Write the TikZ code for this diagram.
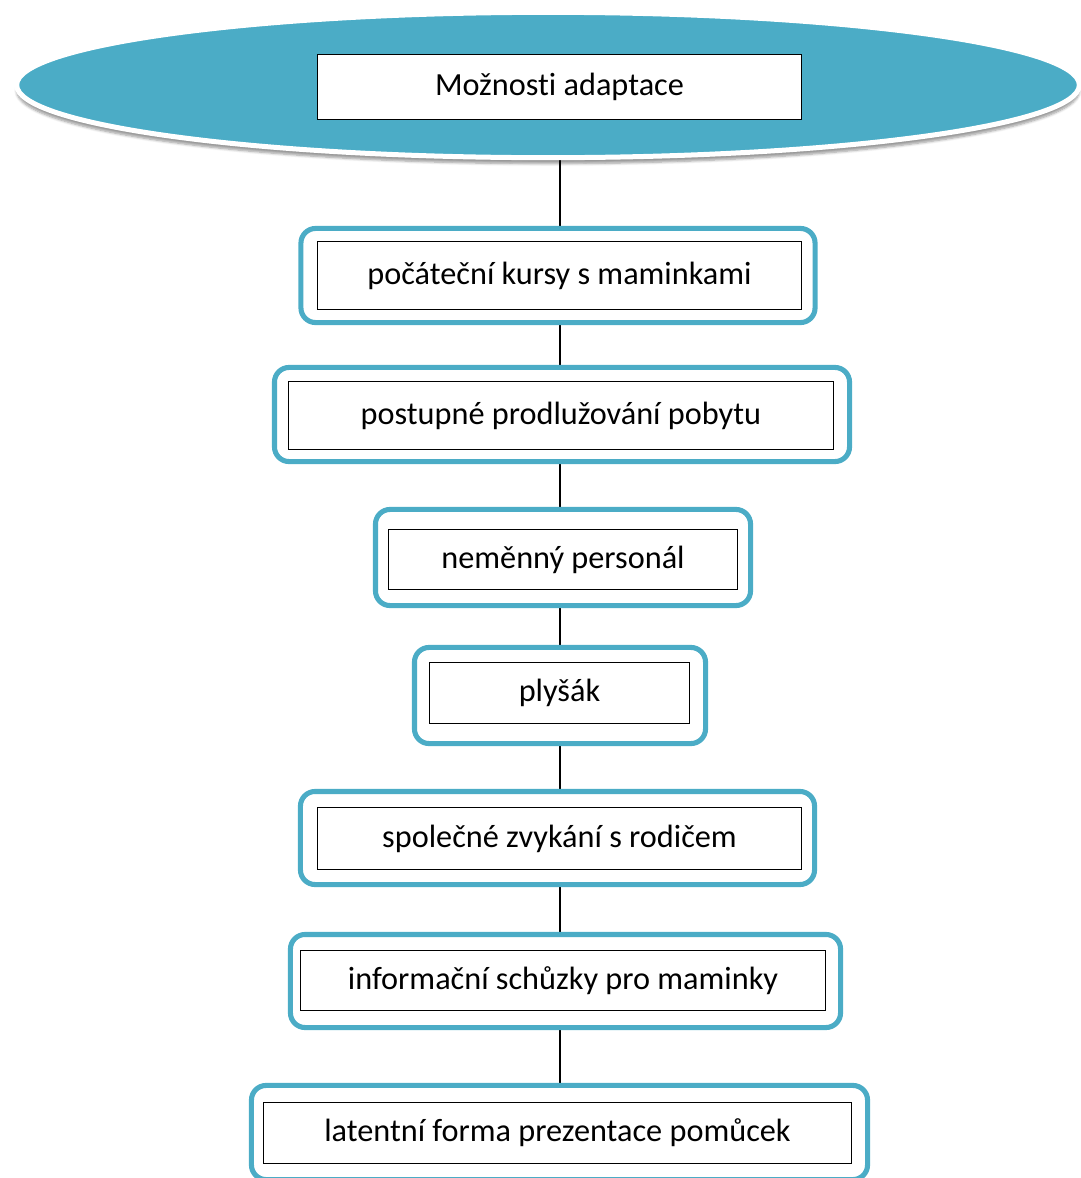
\documentclass[tikz,border=0pt]{standalone}
\usepackage{fontspec}
\setmainfont[RawFeature={-liga}]{Carlito}
\usetikzlibrary{shapes.geometric,shadows.blur,backgrounds}
\definecolor{accent}{HTML}{4BACC6}
\tikzset{
  headoval/.style={ellipse, draw=white, line width=3.75pt, fill=accent, inner sep=0pt,
    blur shadow={shadow xshift=0pt, shadow yshift=-4.5pt, shadow blur steps=6, shadow opacity=40}},
  framebox/.style={draw=accent, line width=3.8pt, rounded corners=11pt, fill=white, inner sep=0pt},
  labelbox/.style={draw=black, line width=0.75pt, fill=white, inner sep=0pt,
    font=\fontsize{24.2}{29}\selectfont},
  link/.style={draw=black, line width=1.5pt}
}
\begin{document}
\begin{tikzpicture}[x=0.75pt,y=-0.75pt]
  \useasboundingbox (0,0) rectangle (1081,1178);
  \coordinate (axis) at (559.5,0);

  % heading
  \node[headoval, minimum width=797pt, minimum height=109pt] (oval) at (548,85) {};
  \node[labelbox, minimum width=363pt, minimum height=48.75pt] (head) at (559.5,87) {Možnosti adaptace};

  % steps: outer frame + inner label
  \node[framebox, minimum width=385.6pt, minimum height=70.6pt] (f1) at (558,275.5) {};
  \node[labelbox, minimum width=363pt, minimum height=51pt] (t1) at (559.5,275.5) {počáteční kursy s maminkami};

  \node[framebox, minimum width=431.3pt, minimum height=70.6pt] (f2) at (562,414.5) {};
  \node[labelbox, minimum width=408.75pt, minimum height=51pt] (t2) at (561,415.5) {postupné prodlužování pobytu};

  \node[framebox, minimum width=281.3pt, minimum height=72.1pt] (f3) at (563,557.5) {};
  \node[labelbox, minimum width=261.75pt, minimum height=45pt] (t3) at (563,559.5) {neměnný personál};

  \node[framebox, minimum width=218.3pt, minimum height=72.1pt] (f4) at (560,695.5) {};
  \node[labelbox, minimum width=195pt, minimum height=45.75pt] (t4) at (559.5,693) {plyšák};

  \node[framebox, minimum width=385.6pt, minimum height=69.8pt] (f5) at (557.5,838) {};
  \node[labelbox, minimum width=363pt, minimum height=46.5pt] (t5) at (559.5,838.5) {společné zvykání s rodičem};

  \node[framebox, minimum width=412.6pt, minimum height=69.8pt] (f6) at (565.5,981) {};
  \node[labelbox, minimum width=393.75pt, minimum height=45pt] (t6) at (563,980.5) {informační schůzky pro maminky};

  \node[framebox, minimum width=462.1pt, minimum height=70.6pt] (f7) at (559.5,1132.5) {};
  \node[labelbox, minimum width=441pt, minimum height=45.75pt] (t7) at (557.5,1133) {latentní forma prezentace pomůcek};

  % vertical connectors behind the frames
  \begin{pgfonlayer}{background}
    \draw[link] (oval.south -| axis) -- (f1.north -| axis);
    \draw[link] (f1.south -| axis) -- (f2.north -| axis);
    \draw[link] (f2.south -| axis) -- (f3.north -| axis);
    \draw[link] (f3.south -| axis) -- (f4.north -| axis);
    \draw[link] (f4.south -| axis) -- (f5.north -| axis);
    \draw[link] (f5.south -| axis) -- (f6.north -| axis);
    \draw[link] (f6.south -| axis) -- (f7.north -| axis);
  \end{pgfonlayer}
\end{tikzpicture}
\end{document}
